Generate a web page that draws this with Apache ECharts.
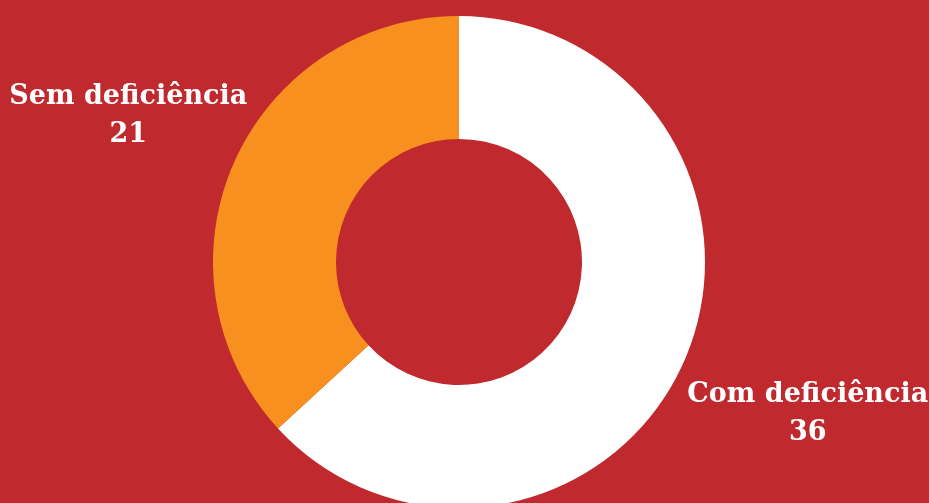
<!DOCTYPE html>
<html>
<head>
<meta charset="utf-8">
<style>html,body{margin:0;padding:0;background:#C0292E;}#chart{width:929px;height:503px;}</style>
<script src="https://cdn.jsdelivr.net/npm/echarts@6/dist/echarts.min.js"></script>
</head>
<body>
<div id="chart"></div>
<script>
const categories = ['Com deficiência', 'Sem deficiência'];
const values = [36, 21];
const colors = ['#FFFFFF', '#F7901F'];

const chart = echarts.init(document.getElementById('chart'));
const total = values.reduce((a, b) => a + b, 0);
const cx = 459, cy = 262, labelR = 371;

chart.setOption({
  backgroundColor: '#C0292E',
  animation: false,
  series: [{
    type: 'pie',
    center: [cx, cy],
    radius: [123, 246],
    startAngle: 90,
    clockwise: true,
    silent: true,
    avoidLabelOverlap: false,
    data: categories.map((c, i) => ({ name: c, value: values[i], itemStyle: { color: colors[i] } })),
    label: {
      show: true,
      position: 'outside',
      formatter: '{b}\n{c}',
      color: '#FFFFFF',
      fontFamily: 'DejaVu Serif',
      fontWeight: 'bold',
      fontSize: 27,
      lineHeight: 38,
      align: 'center',
      overflow: 'none',
      width: 300
    },
    labelLine: { show: false },
    labelLayout: function (p) {
      let before = 0;
      for (let k = 0; k < p.dataIndex; k++) before += values[k];
      const mid = (before + values[p.dataIndex] / 2) / total * 2 * Math.PI;
      return {
        x: cx + 9 + labelR * Math.sin(mid),
        y: cy + 3 - labelR * Math.cos(mid),
        align: 'center',
        verticalAlign: 'middle'
      };
    }
  }]
});
</script>
</body>
</html>
